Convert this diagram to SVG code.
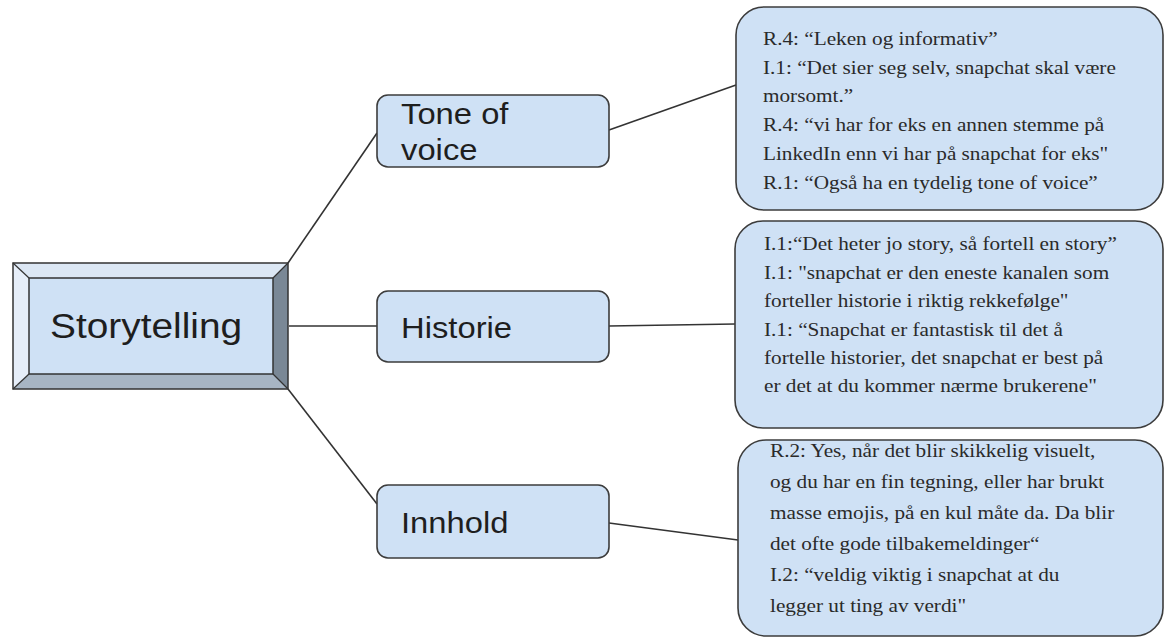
<svg xmlns="http://www.w3.org/2000/svg" width="1165" height="639" viewBox="0 0 1165 639">
<style>
.box{fill:#cfe1f5;stroke:#3c3c3c;stroke-width:1.6}
.sans{font-family:"Liberation Sans",Arial,sans-serif;font-size:29px;fill:#1e1e1e}
.serif{font-family:"Liberation Serif","Times New Roman",serif;font-size:18px;fill:#2a2a2a}
.conn line{stroke:#333;stroke-width:1.6}
</style>
<rect width="1165" height="639" fill="#ffffff"/>
<g class="conn" id="connectors">
<line x1="288" y1="263" x2="377" y2="133"/>
<line x1="289" y1="326" x2="377" y2="326"/>
<line x1="288" y1="389" x2="377" y2="504"/>
<line x1="609" y1="130" x2="736" y2="85"/>
<line x1="609" y1="326" x2="735" y2="324" stroke="#555"/>
<line x1="609" y1="523" x2="738" y2="540"/>
</g>
<g id="storytelling">
<polygon points="13,263 288,263 273,278 29,278" fill="#dce7f4"/>
<polygon points="13,263 29,278 29,374 13,389" fill="#e6eef9"/>
<polygon points="288,263 288,389 273,374 273,278" fill="#7a8896"/>
<polygon points="13,389 288,389 273,374 29,374" fill="#a7b5c4"/>
<rect x="29" y="278" width="244" height="96" fill="#cfe1f5" stroke="#333" stroke-width="1.5"/>
<rect x="13" y="263" width="275" height="126" fill="none" stroke="#333" stroke-width="1.5"/>
<g stroke="#333" stroke-width="1.2">
<line x1="13" y1="263" x2="29" y2="278"/>
<line x1="288" y1="263" x2="273" y2="278"/>
<line x1="13" y1="389" x2="29" y2="374"/>
<line x1="288" y1="389" x2="273" y2="374"/>
</g>
<text class="sans" style="font-size:34.4px" transform="translate(50,338) scale(1.13,1)">Storytelling</text>
</g>
<g id="tone">
<rect class="box" x="377" y="95" width="232" height="72" rx="11"/>
<text class="sans" transform="translate(401,124) scale(1.13,1)">Tone of</text>
<text class="sans" transform="translate(401,160) scale(1.13,1)">voice</text>
</g>
<g id="historie">
<rect class="box" x="377" y="291" width="232" height="71" rx="11"/>
<text class="sans" transform="translate(401,338) scale(1.13,1)">Historie</text>
</g>
<g id="innhold">
<rect class="box" x="377" y="485" width="232" height="73" rx="11"/>
<text class="sans" transform="translate(401,533) scale(1.13,1)">Innhold</text>
</g>
<g id="quotes-tone">
<rect class="box" x="736" y="7" width="427" height="203" rx="28"/>
<g class="serif" transform="translate(763,0) scale(1.18,1)">
<text x="0" y="45">R.4: “Leken og informativ”</text>
<text x="0" y="74">I.1: “Det sier seg selv, snapchat skal være</text>
<text x="0" y="102.5">morsomt.”</text>
<text x="0" y="131.5">R.4: “vi har for eks en annen stemme på</text>
<text x="0" y="160">LinkedIn enn vi har på snapchat for eks"</text>
<text x="0" y="189">R.1: “Også ha en tydelig tone of voice”</text>
</g>
</g>
<g id="quotes-historie">
<rect class="box" x="735" y="221" width="428" height="207" rx="28"/>
<g class="serif" transform="translate(764,0) scale(1.18,1)">
<text x="0" y="250">I.1:“Det heter jo story, så fortell en story”</text>
<text x="0" y="279">I.1: "snapchat er den eneste kanalen som</text>
<text x="0" y="307">forteller historie i riktig rekkefølge"</text>
<text x="0" y="336">I.1: “Snapchat er fantastisk til det å</text>
<text x="0" y="364">fortelle historier, det snapchat er best på</text>
<text x="0" y="392">er det at du kommer nærme brukerene"</text>
</g>
</g>
<g id="quotes-innhold">
<rect class="box" x="738" y="440" width="425" height="196" rx="28"/>
<g class="serif" transform="translate(770,0) scale(1.18,1)">
<text x="0" y="457">R.2: Yes, når det blir skikkelig visuelt,</text>
<text x="0" y="488">og du har en fin tegning, eller har brukt</text>
<text x="0" y="519">masse emojis, på en kul måte da. Da blir</text>
<text x="0" y="550">det ofte gode tilbakemeldinger“</text>
<text x="0" y="581">I.2: “veldig viktig i snapchat at du</text>
<text x="0" y="612">legger ut ting av verdi"</text>
</g>
</g>
</svg>
